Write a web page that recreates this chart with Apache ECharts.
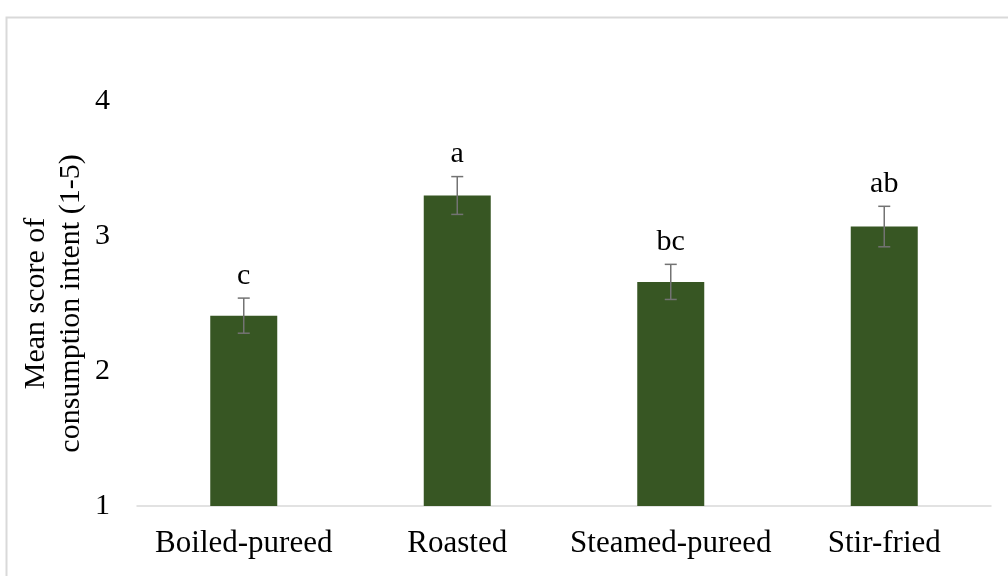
<!DOCTYPE html>
<html>
<head>
<meta charset="utf-8">
<script src="https://cdn.jsdelivr.net/npm/echarts@6/dist/echarts.min.js"></script>
<style>html,body{margin:0;padding:0;background:#fff;}#chart{width:1008px;height:576px;}</style>
</head>
<body>
<div id="chart"></div>
<script>
const categories = ['Boiled-pureed', 'Roasted', 'Steamed-pureed', 'Stir-fried'];
const means = [2.41, 3.30, 2.66, 3.07];
const errors = [0.13, 0.14, 0.13, 0.15];
const letters = ['c', 'a', 'bc', 'ab'];
const yTicks = [1, 2, 3, 4];

const FONT = '"Liberation Serif", "Times New Roman", serif';
const chart = echarts.init(document.getElementById('chart'));
const errData = means.map((m, i) => [i, m - errors[i], m + errors[i], letters[i]]);

chart.setOption({
  animation: false,
  backgroundColor: '#fff',
  graphic: [{
    type: 'rect', left: 4, top: 15, silent: true,
    shape: { x: 0, y: 0, width: 1100, height: 700 },
    style: { fill: 'none', stroke: '#d9d9d9', lineWidth: 2 }
  }],
  grid: { left: 137, right: 17, top: 101, bottom: 70 },
  xAxis: {
    type: 'category', data: categories,
    axisLine: { lineStyle: { color: '#d9d9d9', width: 1.5 } },
    axisTick: { show: false },
    axisLabel: { color: '#000', fontFamily: FONT, fontSize: 31, margin: 22, interval: 0 }
  },
  yAxis: {
    type: 'value', min: yTicks[0], max: yTicks[yTicks.length - 1], interval: 1,
    name: 'Mean score of\nconsumption intent (1-5)',
    nameLocation: 'middle', nameGap: 48, nameMoveOverlap: false,
    nameTextStyle: { color: '#000', fontFamily: FONT, fontSize: 30, lineHeight: 35 },
    axisLine: { show: false }, axisTick: { show: false },
    splitLine: { show: false },
    axisLabel: { color: '#000', fontFamily: FONT, fontSize: 30, margin: 27 }
  },
  series: [{
    type: 'bar', data: means, barWidth: 67,
    itemStyle: { color: '#375623' }
  }, {
    type: 'custom', data: errData, z: 10,
    renderItem: function (params, api) {
      const x = api.value(0);
      const lo = api.coord([x, api.value(1)]);
      const hi = api.coord([x, api.value(2)]);
      const cap = 6;
      const st = { stroke: '#737373', lineWidth: 1.5 };
      return {
        type: 'group',
        children: [
          { type: 'line', shape: { x1: hi[0], y1: hi[1], x2: lo[0], y2: lo[1] }, style: st },
          { type: 'line', shape: { x1: hi[0] - cap, y1: hi[1], x2: hi[0] + cap, y2: hi[1] }, style: st },
          { type: 'line', shape: { x1: lo[0] - cap, y1: lo[1], x2: lo[0] + cap, y2: lo[1] }, style: st },
          { type: 'text', x: hi[0], y: hi[1] - 7,
            style: { text: api.value(3), fill: '#000', font: '30px ' + FONT, textAlign: 'center', textVerticalAlign: 'bottom' } }
        ]
      };
    }
  }]
});
</script>
</body>
</html>
